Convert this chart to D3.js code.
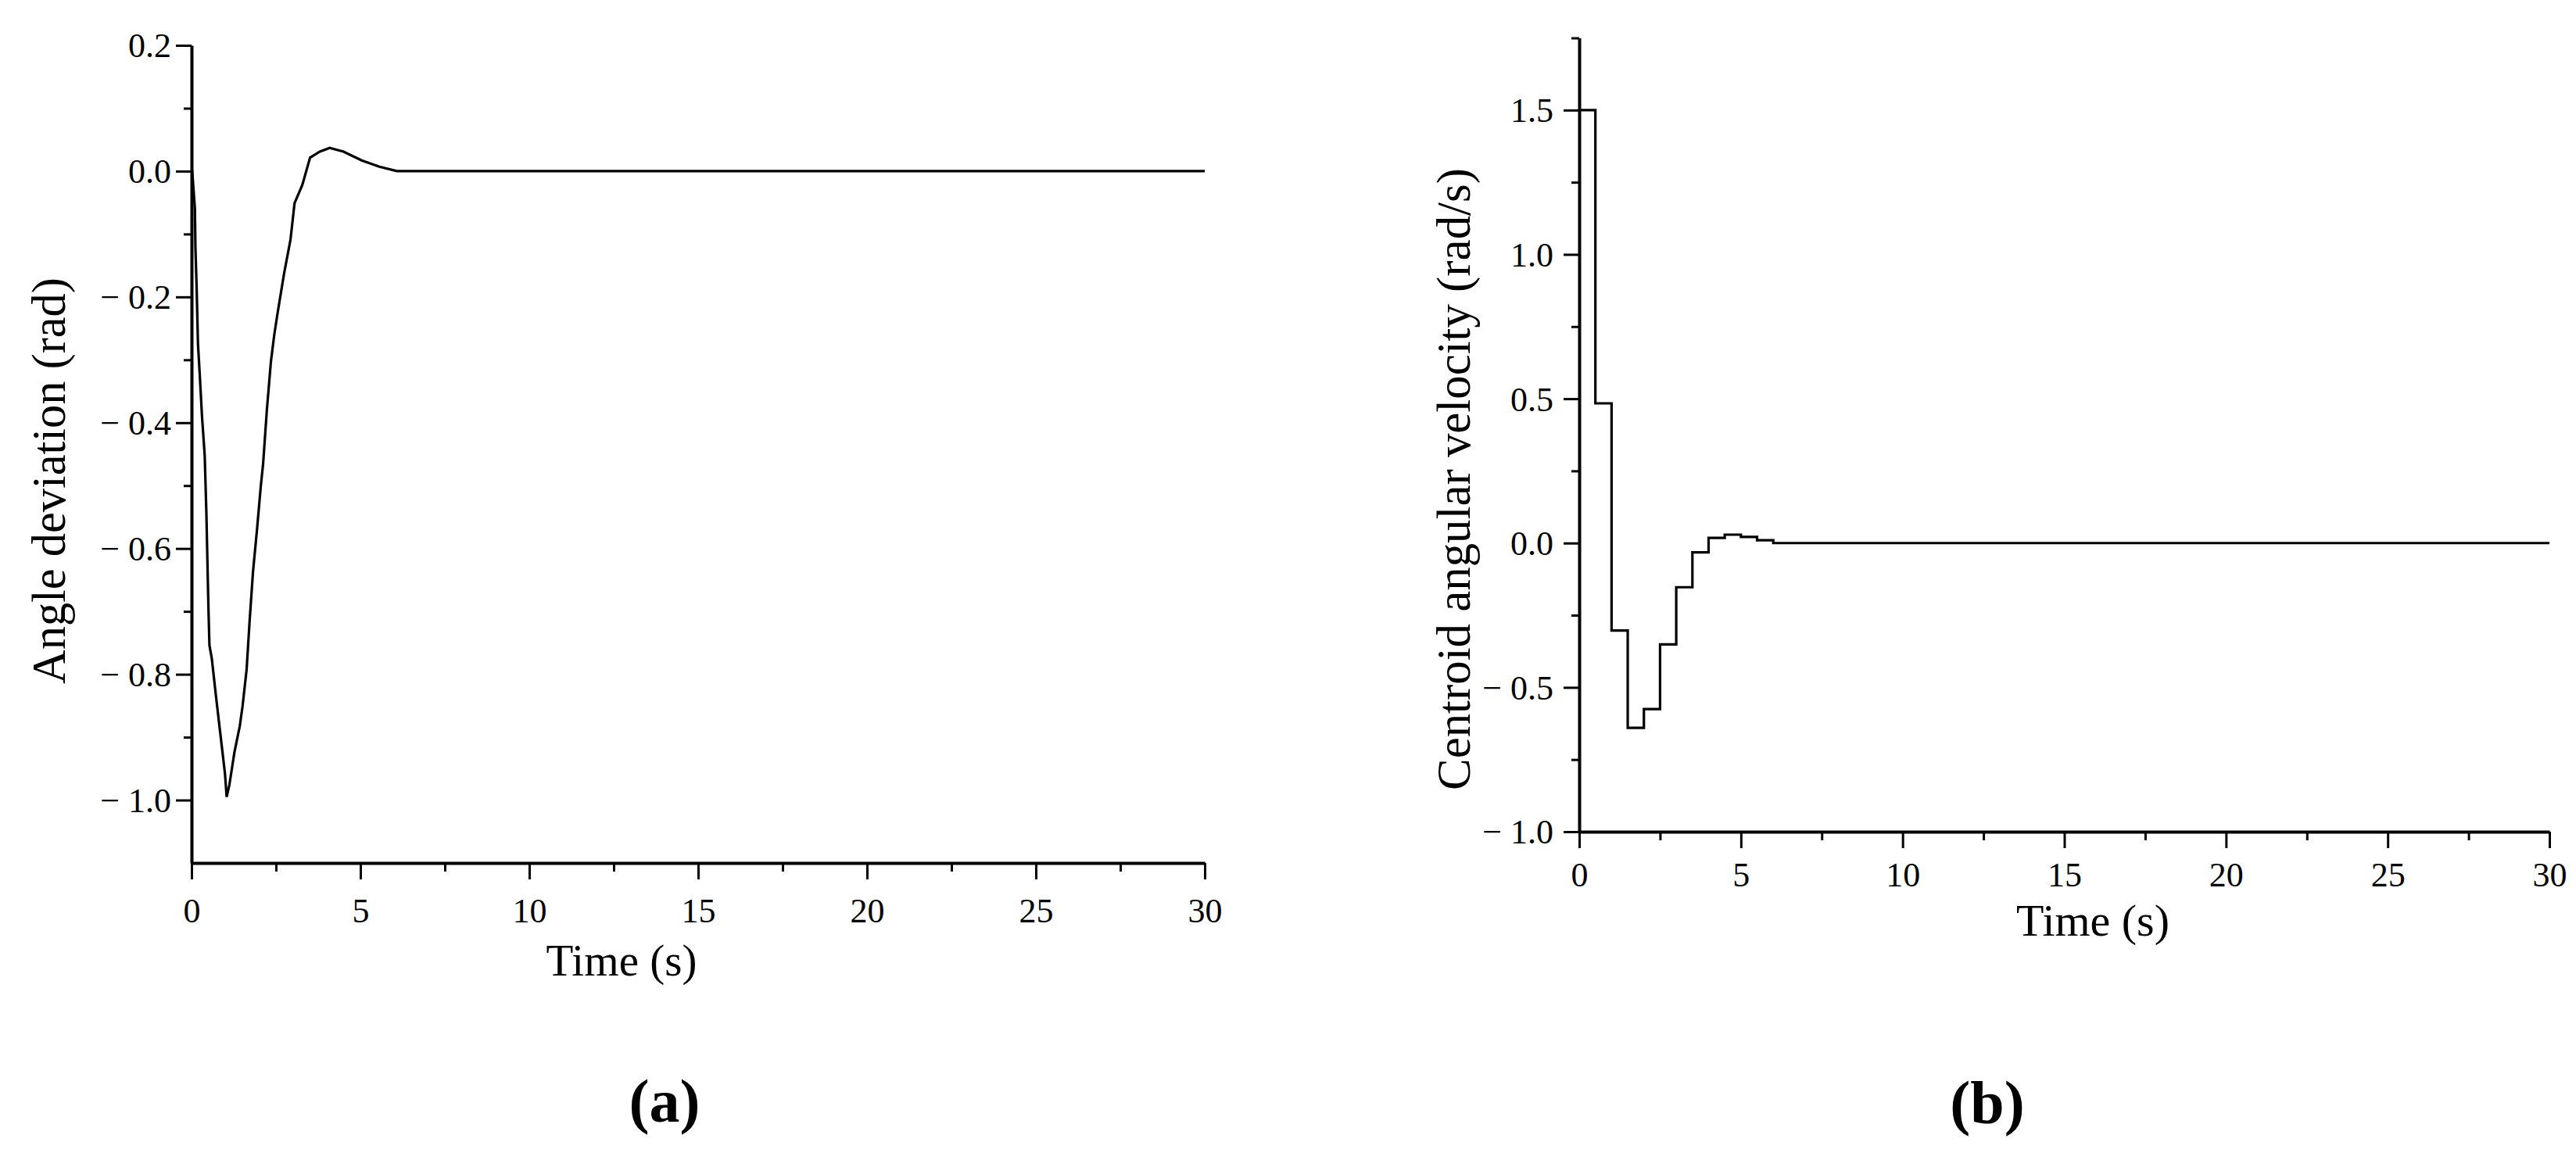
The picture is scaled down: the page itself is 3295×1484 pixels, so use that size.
<!DOCTYPE html>
<html>
<head>
<meta charset="utf-8">
<script src="https://cdn.jsdelivr.net/npm/d3@7"></script>
<style>
  html, body { margin: 0; padding: 0; background: #fff; }
  svg { display: block; }
  text { font-family: "Liberation Serif", "DejaVu Serif", serif; fill: #000; }
</style>
</head>
<body>
<svg id="chart" width="3295" height="1484"></svg>
<script>
// ---------------- data ----------------
// (a) angle deviation vs time
const timeA  = [0, 0.02, 0.1, 0.115, 0.15, 0.19, 0.25, 0.31, 0.39, 0.44, 0.5, 0.53, 0.6, 0.73, 0.86, 0.99, 1.04, 1.12, 1.27, 1.43, 1.51, 1.63, 1.72, 1.82, 1.94, 2.05, 2.12, 2.23, 2.35, 2.45, 2.55, 2.74, 2.93, 3.05, 3.28, 3.51, 3.8, 4.09, 4.5, 5.04, 5.56, 6.08, 30];
const angleA = [0, 0, -0.06, -0.121, -0.183, -0.274, -0.33, -0.39, -0.452, -0.545, -0.694, -0.754, -0.775, -0.838, -0.898, -0.958, -0.995, -0.976, -0.924, -0.882, -0.851, -0.793, -0.715, -0.637, -0.569, -0.501, -0.465, -0.38, -0.303, -0.26, -0.225, -0.163, -0.109, -0.051, -0.022, 0.0215, 0.031, 0.037, 0.031, 0.017, 0.007, 0, 0];

// (b) centroid angular velocity (piecewise constant, value holds from each time until the next)
const timeB  = [0, 0.5, 1.0, 1.5, 2.0, 2.5, 3.0, 3.5, 4.0, 4.5, 5.0, 5.5, 6.0, 30];
const omegaB = [1.5, 0.484, -0.303, -0.64, -0.575, -0.351, -0.153, -0.032, 0.018, 0.029, 0.021, 0.010, 0, 0];

// ticks
const xMajorTicks = [0, 5, 10, 15, 20, 25, 30];
const xMinorTicks = [2.5, 7.5, 12.5, 17.5, 22.5, 27.5];
const yMajorTicksA = [0.2, 0, -0.2, -0.4, -0.6, -0.8, -1.0];
const yMinorTicksA = [0.1, -0.1, -0.3, -0.5, -0.7, -0.9];
const yMajorTicksB = [1.5, 1.0, 0.5, 0, -0.5, -1.0];
const yMinorTicksB = [1.75, 1.25, 0.75, 0.25, -0.25, -0.75];

const labels = {
  a: { x: "Time (s)", y: "Angle deviation (rad)", tag: "(a)" },
  b: { x: "Time (s)", y: "Centroid angular velocity (rad/s)", tag: "(b)" }
};

// ---------------- drawing ----------------
const svg = d3.select("#chart");
const fmt = v => (v < 0 ? "\u2212 " : "") + d3.format(".1f")(Math.abs(v));

function fitText(sel, target, base) {
  sel.style("font-size", base + "px");
  const len = sel.node().getComputedTextLength();
  sel.style("font-size", (base * target / len) + "px");
}

function panel(cfg) {
  const g = svg.append("g");
  const x = d3.scaleLinear().domain([0, 30]).range([cfg.x0, cfg.x1]);
  const y = d3.scaleLinear().domain(cfg.yDomain).range([cfg.yBottom, cfg.yTop]);

  // minor ticks
  g.append("g").attr("transform", `translate(0,${cfg.yBottom})`)
    .call(d3.axisBottom(x).tickValues(xMinorTicks).tickSize(11).tickFormat(""))
    .call(s => s.select(".domain").remove());
  g.append("g").attr("transform", `translate(${cfg.x0},0)`)
    .call(d3.axisLeft(y).tickValues(cfg.yMinor).tickSize(10).tickFormat(""))
    .call(s => s.select(".domain").remove());

  // major axes
  const xa = g.append("g").attr("transform", `translate(0,${cfg.yBottom})`)
    .call(d3.axisBottom(x).tickValues(xMajorTicks).tickSize(21).tickSizeOuter(0).tickFormat(d3.format("d")));
  xa.selectAll("text").attr("dy", null).attr("y", cfg.xLabelOffset)
    .style("font-size", "44px");
  const ya = g.append("g").attr("transform", `translate(${cfg.x0},0)`)
    .call(d3.axisLeft(y).tickValues(cfg.yMajor).tickSize(20).tickSizeOuter(0).tickPadding(cfg.yPad).tickFormat(fmt));
  ya.selectAll("text").style("font-size", "44px").attr("dy", "0.34em");

  g.selectAll(".domain").attr("stroke", "#000").attr("stroke-width", 4);
  g.selectAll(".tick line").attr("stroke", "#000").attr("stroke-width", 3);

  // data line
  const pts = cfg.t.map((t, i) => [t, cfg.v[i]]);
  g.append("path").datum(pts)
    .attr("fill", "none").attr("stroke", "#000").attr("stroke-width", 3.2)
    .attr("stroke-linejoin", "miter")
    .attr("d", d3.line().x(d => x(d[0])).y(d => y(d[1])).curve(cfg.curve));

  // axis titles
  const xt = g.append("text").attr("x", cfg.xTitle[0]).attr("y", cfg.xTitle[1])
    .attr("text-anchor", "middle").text(cfg.lab.x);
  fitText(xt, cfg.xTitleLen, 56);
  const yt = g.append("text")
    .attr("transform", `translate(${cfg.yTitle[0]},${cfg.yTitle[1]}) rotate(-90)`)
    .attr("text-anchor", "middle").text(cfg.lab.y);
  fitText(yt, cfg.yTitleLen, 56);

  // panel tag
  g.append("text").attr("x", cfg.tag[0]).attr("y", cfg.tag[1])
    .attr("text-anchor", "middle").style("font-size", "78px").style("font-weight", "bold")
    .text(cfg.lab.tag);
}

panel({
  x0: 245, x1: 1541, yTop: 58, yBottom: 1104, yDomain: [-1.1, 0.2],
  yMajor: yMajorTicksA, yMinor: yMinorTicksA, yPad: 6, xLabelOffset: 76,
  t: timeA, v: angleA, curve: d3.curveLinear, lab: labels.a,
  xTitle: [795, 1248], xTitleLen: 193, yTitle: [83, 615], yTitleLen: 520,
  tag: [850, 1435]
});

panel({
  x0: 2020, x1: 3261, yTop: 48.5, yBottom: 1064, yDomain: [-1.0, 1.75],
  yMajor: yMajorTicksB, yMinor: yMinorTicksB, yPad: 13, xLabelOffset: 70,
  t: timeB, v: omegaB, curve: d3.curveStepAfter, lab: labels.b,
  xTitle: [2677, 1197], xTitleLen: 196, yTitle: [1880, 613], yTitleLen: 796,
  tag: [2542, 1437]
});
</script>
</body>
</html>
